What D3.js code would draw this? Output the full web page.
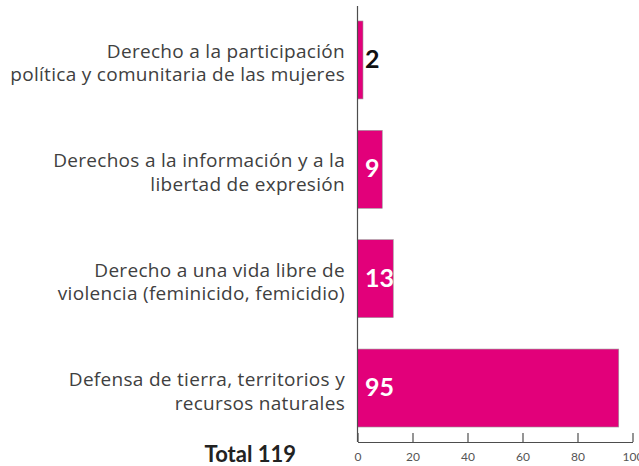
<!DOCTYPE html>
<html>
<head>
<meta charset="utf-8">
<script src="https://cdn.jsdelivr.net/npm/d3@7"></script>
<style>
  html, body { margin: 0; padding: 0; background: #fff; }
  svg { display: block; }
  .axis path, .axis line { stroke: #4d4d4d; stroke-width: 1.2; }
  .axis text { font-family: Lato, "Open Sans", sans-serif; font-size: 12px; fill: #555; }
</style>
</head>
<body>
<div id="chart"></div>
<script>
// Chart data
const categories = [
  ['Derecho a la participación', 'política y comunitaria de las mujeres'],
  ['Derechos a la información y a la', 'libertad de expresión'],
  ['Derecho a una vida libre de', 'violencia (feminicido, femicidio)'],
  ['Defensa de tierra, territorios y', 'recursos naturales']
];
const values = [2, 9, 13, 95];
const xTicks = [0, 20, 40, 60, 80, 100];
const totalLabel = 'Total 119';

const W = 639, H = 466;
const svg = d3.select('#chart').append('svg')
  .attr('width', W)
  .attr('height', H);

// Scales
const xScale = d3.scaleLinear()
  .domain([0, 100])
  .range([357.5, 632.5]);

const yScale = d3.scaleBand()
  .domain(d3.range(values.length))
  .range([6, 442])
  .paddingInner(0.287)
  .paddingOuter(0.137);

const axisY = 442;

// Bars
svg.selectAll('.bar')
  .data(values)
  .enter().append('rect')
  .attr('class', 'bar')
  .attr('x', xScale(0))
  .attr('y', (d, i) => yScale(i))
  .attr('width', d => xScale(d) - xScale(0))
  .attr('height', yScale.bandwidth())
  .attr('fill', '#e2007a')
  .attr('stroke', '#9a9a9a')
  .attr('stroke-width', 0.6);

// Bottom axis, ticks pointing up
const xAxis = svg.append('g')
  .attr('class', 'axis')
  .attr('transform', `translate(0,${axisY})`)
  .call(d3.axisBottom(xScale).tickValues(xTicks).tickSize(-9).tickSizeOuter(0));
xAxis.selectAll('text').attr('y', 10);

// Vertical axis line
svg.append('line')
  .attr('x1', xScale(0)).attr('x2', xScale(0))
  .attr('y1', 6).attr('y2', axisY)
  .attr('stroke', '#4d4d4d')
  .attr('stroke-width', 1.2);

// Category labels (two lines each)
const labels = svg.selectAll('.cat')
  .data(categories)
  .enter().append('text')
  .attr('class', 'cat')
  .attr('text-anchor', 'end')
  .style('font-family', '"Open Sans", Lato, sans-serif')
  .style('font-size', '19px')
  .style('letter-spacing', '0.3px')
  .style('fill', '#404040');

labels.each(function(d, i) {
  const cy = yScale(i) + yScale.bandwidth() / 2;
  d3.select(this).selectAll('tspan')
    .data(d)
    .enter().append('tspan')
    .attr('x', 345)
    .attr('y', (t, j) => cy - 2 + j * 23.5)
    .text(t => t);
});

// Value labels
svg.selectAll('.val')
  .data(values)
  .enter().append('text')
  .attr('class', 'val')
  .attr('x', 365)
  .attr('y', (d, i) => yScale(i) + yScale.bandwidth() / 2 + 8)
  .style('font-family', 'Lato, "Open Sans", sans-serif')
  .style('font-size', '25px')
  .style('font-weight', 'bold')
  .style('fill', d => (xScale(d) - xScale(0) < 15 ? '#111' : '#fff'))
  .text(d => d);

// Total
svg.append('text')
  .attr('x', 296)
  .attr('y', 462)
  .attr('text-anchor', 'end')
  .style('font-family', 'Lato, "Open Sans", sans-serif')
  .style('font-size', '22px')
  .style('font-weight', 'bold')
  .style('fill', '#222')
  .text(totalLabel);
</script>
</body>
</html>
